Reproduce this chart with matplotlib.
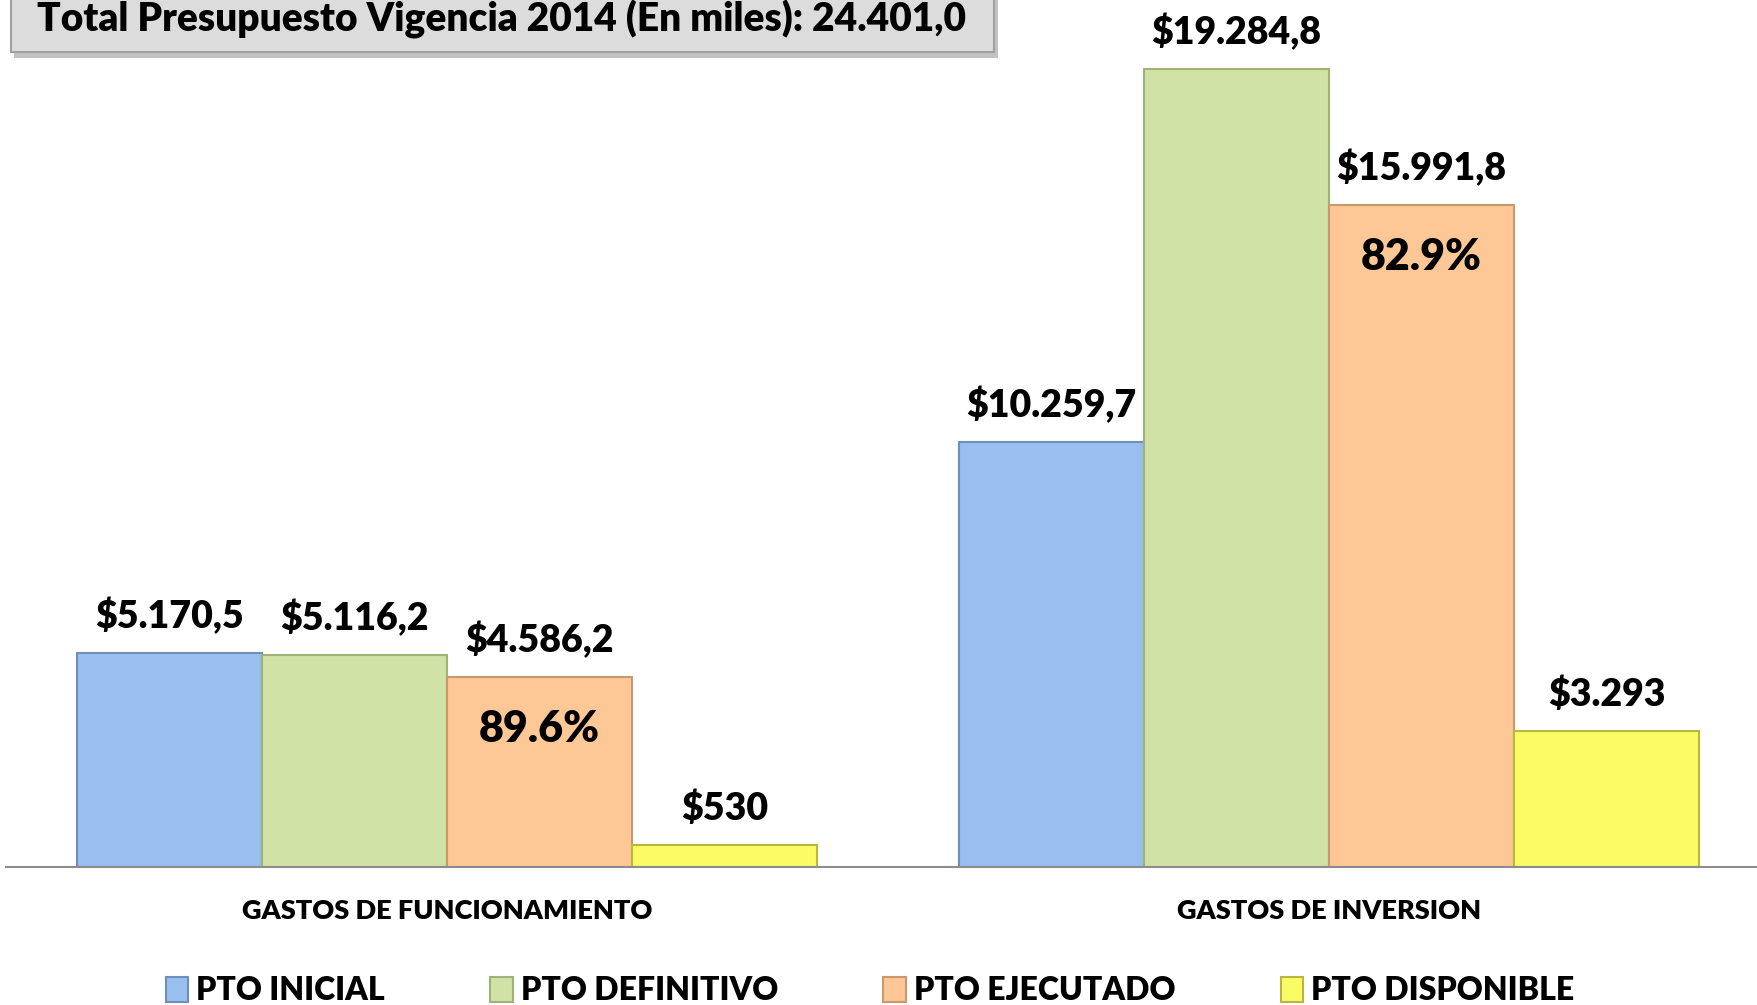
import numpy as np
import matplotlib.pyplot as plt
from matplotlib.patches import FancyBboxPatch

plt.rcParams['font.family'] = ['Lato', 'DejaVu Sans']

# -------------------------------------------------
# Data (miles de pesos)
# -------------------------------------------------
categories = ["GASTOS DE FUNCIONAMIENTO", "GASTOS DE INVERSION"]
series = ["PTO INICIAL", "PTO DEFINITIVO", "PTO EJECUTADO", "PTO DISPONIBLE"]
pto_inicial = [5170.5, 10259.7]
pto_definitivo = [5116.2, 19284.8]
pto_ejecutado = [4586.2, 15991.8]
pto_disponible = [530.0, 3293.0]
value_labels = [
    ["$5.170,5", "$10.259,7"],
    ["$5.116,2", "$19.284,8"],
    ["$4.586,2", "$15.991,8"],
    ["$530", "$3.293"],
]
pct_ejecucion = ["89.6%", "82.9%"]
title = "Total Presupuesto Vigencia 2014 (En miles): 24.401,0"

colors = ["#98BFF0", "#D1E2A6", "#FDC896", "#FBFB66"]
edges = ["#6F8FB8", "#9FB27A", "#C8996C", "#B8B840"]
BOLD = 'heavy'

# -------------------------------------------------
# Figure
# -------------------------------------------------
W, H = 1758, 1005
fig = plt.figure(figsize=(W / 100, H / 100), dpi=100)
ax = fig.add_axes([6 / W, 138 / H, 1764 / W, 828 / H])

x = np.arange(len(categories))
width = 0.21
values = [pto_inicial, pto_definitivo, pto_ejecutado, pto_disponible]

for i, vals in enumerate(values):
    pos = x + (i - 1.5) * width
    ax.bar(pos, vals, width, color=colors[i], edgecolor=edges[i],
           linewidth=1.5, label=series[i], zorder=2)
    for j, v in enumerate(vals):
        ax.text(pos[j], v + 450, value_labels[i][j], ha='center', va='bottom',
                fontsize=27, fontweight=BOLD, color='black')
    if i == 2:
        for j, v in enumerate(vals):
            ax.text(pos[j], v - 1250, pct_ejecucion[j], ha='center', va='center',
                    fontsize=31, fontweight=BOLD, color='black')

ax.set_xlim(-0.5, 1.5)
ax.set_ylim(0, 20000)
for s in ['top', 'right', 'left']:
    ax.spines[s].set_visible(False)
ax.spines['bottom'].set_color('#8C8C8C')
ax.spines['bottom'].set_linewidth(1.5)
ax.set_yticks([])
ax.set_xticks(x)
ax.set_xticklabels(categories, fontsize=19.5, fontweight=BOLD)
ax.tick_params(axis='x', length=0, pad=23)

# legend
leg = fig.legend(loc='lower center', bbox_to_anchor=(0.495, -0.029), ncol=4,
                 frameon=False, fontsize=23, handlelength=0.7, handleheight=0.85,
                 handletextpad=0.25, columnspacing=3.3)
for t in leg.get_texts():
    t.set_fontweight(BOLD)

# title box
shadow = FancyBboxPatch((14 / W, 1 - 58 / H), 984 / W, 80 / H,
                        boxstyle='square,pad=0', transform=fig.transFigure,
                        facecolor='#9A9A9A', edgecolor='none', alpha=0.6)
box = FancyBboxPatch((11 / W, 1 - 52 / H), 983 / W, 80 / H,
                     boxstyle='square,pad=0', transform=fig.transFigure,
                     facecolor='#DCDCDC', edgecolor='#A0A0A0', linewidth=1.5)
fig.patches.extend([shadow, box])
fig.text(502 / W, 1 - 19 / H, title, ha='center', va='center',
         fontsize=28, fontweight=BOLD, color='black')

fig.savefig("out.png", dpi=100)
